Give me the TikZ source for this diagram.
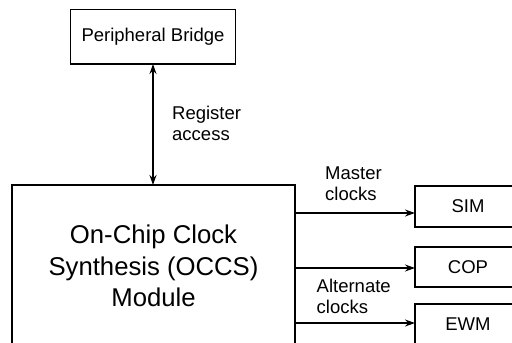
\documentclass[tikz,border=0pt]{standalone}
\usepackage{fontspec}
\setmainfont{Liberation Sans}
\usetikzlibrary{arrows.meta}
\begin{document}
\begin{tikzpicture}[x=1pt,y=-1pt,
  box/.style={draw,line width=1.3pt,inner sep=0pt},
  lbl/.style={font=\fontsize{18.5}{21}\selectfont,inner sep=0pt,align=left,anchor=base west},
  boxtext/.style={font=\fontsize{18.5}{21}\selectfont,inner sep=0pt},
  conn/.style={line width=1.3pt,-{Stealth[length=10pt,width=7pt]}},
  conn2/.style={line width=1.3pt,{Stealth[length=10pt,width=7pt]}-{Stealth[length=10pt,width=7pt]}}]
\useasboundingbox (0,0) rectangle (512,343);
\clip (0,0) rectangle (512,343);
% Peripheral Bridge
\draw[line width=1.3pt] (70.5,9.5) rectangle (235.5,64);
\node[boxtext] (pb) at (153,37) {Peripheral Bridge};
\coordinate (pbS) at (153,64);
% OCCS
\draw[line width=1.3pt] (12,360) -- (12,185) -- (295,185) -- (295,360);
\coordinate (occN) at (153,185);
\node[font=\fontsize{25.7}{31.7}\selectfont,align=center,inner sep=0pt] (occs) at (153.5,266) {On-Chip Clock\\Synthesis (OCCS)\\Module};
% right boxes
\draw[line width=1.3pt] (525,186) -- (415,186) -- (415,227) -- (525,227);
\draw[line width=1.3pt] (525,247) -- (415,247) -- (415,287) -- (525,287);
\draw[line width=1.3pt] (525,360) -- (415,360) -- (415,304) -- (525,304);
\node[boxtext] (sim) at (468,206.5) {SIM};
\node[boxtext] (cop) at (468,267) {COP};
\node[boxtext] (ewm) at (468,324) {EWM};
% connectors
\draw[conn2] (pbS) -- (occN);
\coordinate (o1) at (295,213); \coordinate (t1) at (415,213);
\coordinate (o2) at (295,268); \coordinate (t2) at (415,268);
\coordinate (o3) at (295,323); \coordinate (t3) at (415,323);
\draw[conn] (o1) -- (t1);
\draw[conn] (o2) -- (t2);
\draw[conn] (o3) -- (t3);
% labels
\node[lbl] (reg) at (172,140) {Register\\access};
\node[lbl] (mas) at (325,200) {Master\\clocks};
\node[lbl] (alt) at (316.5,313) {Alternate\\clocks};
\end{tikzpicture}
\end{document}
